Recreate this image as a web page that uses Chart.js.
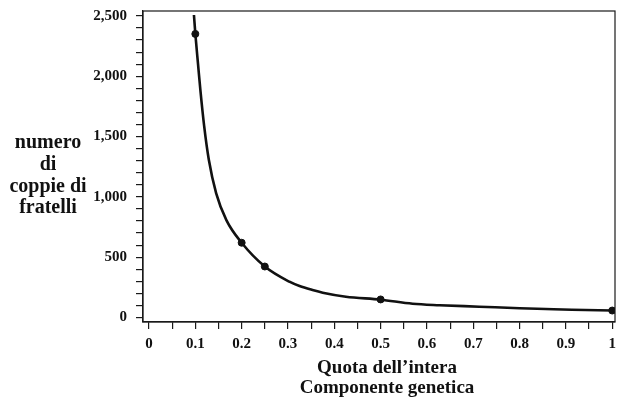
<!DOCTYPE html>
<html lang="it">
<head>
  <meta charset="utf-8">
  <title>Numero di coppie di fratelli</title>
  <script src="https://cdn.jsdelivr.net/npm/chart.js@4"></script>
  <style>
html, body {
  margin: 0;
  padding: 0;
  background: #fff;
}
#wrap {
  position: relative;
  width: 620px;
  height: 401px;
}
  </style>
</head>
<body>
  <div id="wrap">
    <canvas id="chart"></canvas>
  </div>
  <script>
// values
const curveX = [0.097, 0.1, 0.106, 0.111, 0.119, 0.129, 0.145, 0.167, 0.2, 0.25, 0.303, 0.325, 0.353, 0.375, 0.425, 0.5, 0.569, 0.627, 0.713, 0.8, 0.856, 0.913, 1];
const curveY = [2508, 2351, 2092, 1880, 1588, 1310, 1030, 808, 620, 423, 297, 261, 228, 206, 173, 148, 114, 102, 90, 77, 71, 65, 58];

const pointX = [0.1, 0.2, 0.25, 0.5, 1];
const pointY = [2351, 620, 423, 150, 58];

const xTickValues = [0, 0.05, 0.1, 0.15, 0.2, 0.25, 0.3, 0.35, 0.4, 0.45, 0.5, 0.55, 0.6, 0.65, 0.7, 0.75, 0.8, 0.85, 0.9, 0.95, 1];
const yTickValues = [0, 100, 200, 300, 400, 500, 600, 700, 800, 900, 1000, 1100, 1200, 1300, 1400, 1500, 1600, 1700, 1800, 1900, 2000, 2100, 2200, 2300, 2400, 2500];

const yTitle = ['numero', 'di', 'coppie di', 'fratelli'];
const xTitle = ["Quota dell\u2019intera", 'Componente genetica'];

const serif = '"Liberation Serif", "DejaVu Serif", serif';

// frame round the plot area plus the axis titles
const framePlugin = {
  id: 'frame',
  afterDraw(chart) {
    const { ctx, chartArea: a } = chart;
    ctx.save();
    ctx.strokeStyle = '#1a1a1a';
    ctx.lineWidth = 1.2;
    ctx.strokeRect(a.left, a.top, a.right - a.left, a.bottom - a.top);

    ctx.fillStyle = '#111';
    ctx.textAlign = 'center';
    ctx.textBaseline = 'alphabetic';
    ctx.font = 'bold 20px ' + serif;
    const yBase = [148, 170, 192, 213];
    yTitle.forEach((t, i) => ctx.fillText(t, 48, yBase[i]));

    ctx.font = 'bold 19px ' + serif;
    ctx.fillText(xTitle[0], 387, 373);
    ctx.fillText(xTitle[1], 387, 393);
    ctx.restore();
  }
};

const data = {
  datasets: [
    {
      label: 'curva',
      data: curveX.map((x, i) => ({ x: x, y: curveY[i] })),
      showLine: true,
      borderColor: '#111',
      borderWidth: 2.6,
      pointRadius: 0,
      cubicInterpolationMode: 'monotone',
      order: 2
    },
    {
      label: 'osservati',
      data: pointX.map((x, i) => ({ x: x, y: pointY[i] })),
      showLine: false,
      backgroundColor: '#111',
      borderColor: '#111',
      pointRadius: 3.5,
      order: 1
    }
  ]
};

const config = {
  type: 'scatter',
  data: data,
  options: {
    responsive: false,
    animation: false,
    events: [],
    layout: {
      padding: { top: 11, right: 4, left: 0, bottom: 0 }
    },
    plugins: {
      legend: { display: false },
      tooltip: { enabled: false }
    },
    scales: {
      x: {
        type: 'linear',
        min: -0.013,
        max: 1.006,
        afterBuildTicks: (scale) => {
          scale.ticks = xTickValues.map(v => ({ value: v }));
        },
        afterFit: (scale) => {
          scale.height = 79;
          scale.paddingLeft = 0;
          scale.paddingRight = 0;
        },
        border: { display: true, color: '#1a1a1a', width: 1.2 },
        grid: {
          drawOnChartArea: false,
          drawTicks: true,
          tickLength: 7,
          color: '#1a1a1a',
          lineWidth: 1.2
        },
        ticks: {
          autoSkip: false,
          maxRotation: 0,
          padding: 6,
          color: '#111',
          font: { family: serif, size: 15, weight: 'bold' },
          callback: (v) => {
            const r = Math.round(v * 100);
            if (r % 10 !== 0) return '';
            if (r === 0) return '0';
            if (r === 100) return '1';
            return (r / 100).toFixed(1);
          }
        }
      },
      y: {
        type: 'linear',
        min: -37,
        max: 2541,
        afterBuildTicks: (scale) => {
          scale.ticks = yTickValues.map(v => ({ value: v }));
        },
        afterFit: (scale) => {
          scale.width = 143;
          scale.paddingTop = 0;
          scale.paddingBottom = 0;
        },
        border: { display: true, color: '#1a1a1a', width: 1.2 },
        grid: {
          drawOnChartArea: false,
          drawTicks: true,
          tickLength: 7,
          color: '#1a1a1a',
          lineWidth: 1.2
        },
        ticks: {
          autoSkip: false,
          padding: 9,
          color: '#111',
          font: { family: serif, size: 15, weight: 'bold' },
          callback: (v) => (v % 500 === 0 ? v.toLocaleString('en-US') : '')
        }
      }
    }
  },
  plugins: [framePlugin]
};

const canvas = document.getElementById('chart');
canvas.width = 620;
canvas.height = 401;
new Chart(canvas, config);
  </script>
</body>
</html>
